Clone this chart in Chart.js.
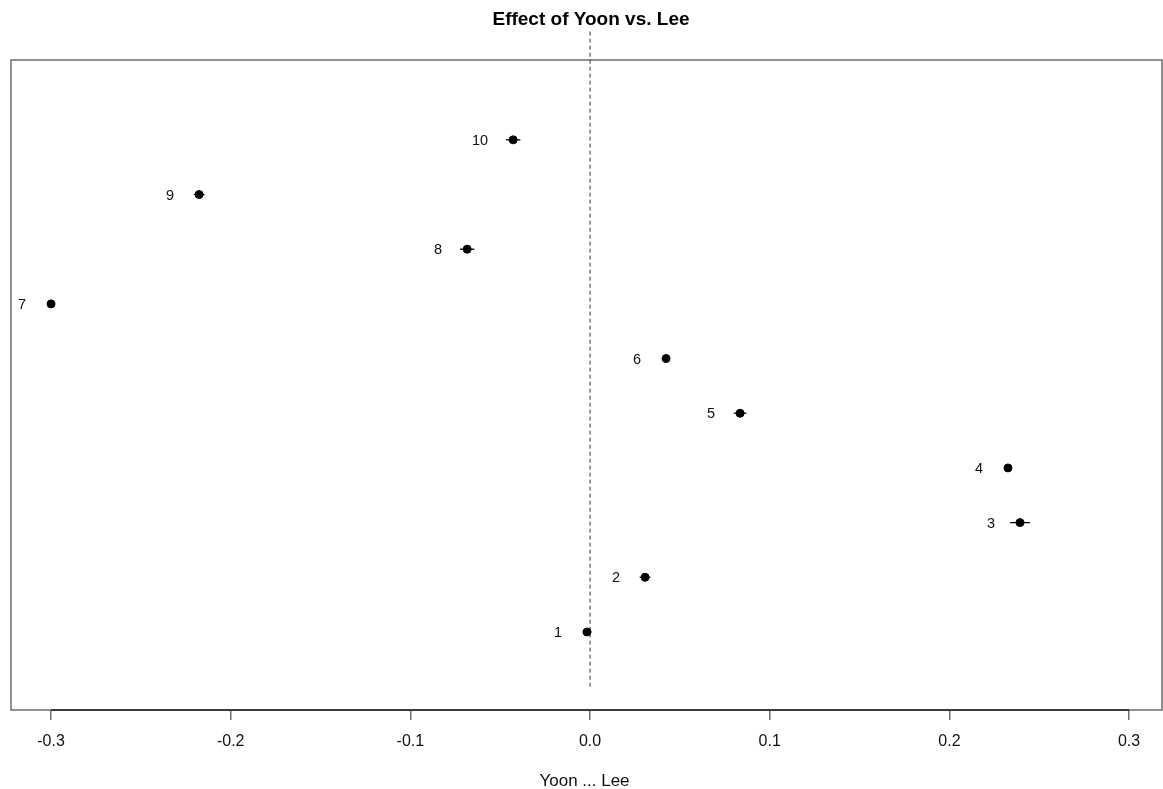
<!DOCTYPE html>
<html>
<head>
<meta charset="utf-8">
<script src="https://cdn.jsdelivr.net/npm/chart.js@4"></script>
<style>
  html, body { margin: 0; padding: 0; background: #fff; overflow: hidden; }
  #wrap { width: 1163px; height: 789px; }
</style>
</head>
<body>
<div id="wrap"><canvas id="grafica"></canvas></div>
<script>
// ================= DATOS =================
const etiquetas = ["1", "2", "3", "4", "5", "6", "7", "8", "9", "10"];
const posiciones = [1, 2, 3, 4, 5, 6, 7, 8, 9, 10];
const efectos = [-0.0017, 0.0306, 0.2393, 0.2326, 0.0835, 0.0423, -0.300, -0.0684, -0.2176, -0.0428];
const margenes = [0.0025, 0.003, 0.0055, 0.002, 0.0035, 0.002, 0.001, 0.004, 0.003, 0.004];
const ticksX = [-0.3, -0.2, -0.1, 0.0, 0.1, 0.2, 0.3];

const FUENTE = "'Liberation Sans', Arial, sans-serif";

// ================= PLUGIN: caja, eje, barras y etiquetas =================
const dibujoR = {
    id: "dibujoR",
    beforeDatasetsDraw(chart) {
        const { ctx, chartArea: a, scales: { x, y } } = chart;
        ctx.save();
        // caja del gráfico (hasta el borde derecho del lienzo)
        ctx.strokeStyle = "#6e6e6e";
        ctx.lineWidth = 1.5;
        ctx.strokeRect(a.left, a.top, chart.width - 1 - a.left, a.bottom - a.top);
        // línea del eje de -0.3 a 0.3
        ctx.strokeStyle = "#222";
        ctx.beginPath();
        ctx.moveTo(x.getPixelForValue(ticksX[0]), a.bottom);
        ctx.lineTo(x.getPixelForValue(ticksX[ticksX.length - 1]), a.bottom);
        ctx.stroke();
        // barras de error
        ctx.strokeStyle = "#000";
        ctx.lineWidth = 1.3;
        efectos.forEach((v, i) => {
            const py = y.getPixelForValue(posiciones[i]);
            ctx.beginPath();
            ctx.moveTo(x.getPixelForValue(v - margenes[i]), py);
            ctx.lineTo(x.getPixelForValue(v + margenes[i]), py);
            ctx.stroke();
        });
        ctx.restore();
    },
    afterDatasetsDraw(chart) {
        const { ctx, scales: { x, y } } = chart;
        ctx.save();
        // etiquetas de cada punto
        ctx.fillStyle = "#111";
        ctx.font = "14.5px " + FUENTE;
        ctx.textAlign = "right";
        ctx.textBaseline = "middle";
        efectos.forEach((v, i) => {
            ctx.fillText(etiquetas[i], x.getPixelForValue(v) - 25, y.getPixelForValue(posiciones[i]) + 1);
        });
        // título
        ctx.font = "bold 19px " + FUENTE;
        ctx.textAlign = "center";
        ctx.fillStyle = "#000";
        ctx.fillText("Effect of Yoon vs. Lee", 591, 20);
        ctx.restore();
    }
};

// ================= GRÁFICA =================
const ctx = document.getElementById("grafica").getContext("2d");
window.miGrafica = new Chart(ctx, {
    type: "scatter",
    data: {
        datasets: [
            {
                label: "Efecto",
                data: efectos.map((v, i) => ({ x: v, y: posiciones[i] })),
                backgroundColor: "#000",
                borderColor: "#000",
                pointRadius: 4,
                pointHoverRadius: 4
            },
            {
                // línea discontinua en cero
                label: "cero",
                type: "line",
                data: [{ x: 0, y: 0 }, { x: 0, y: 12 }],
                borderColor: "#333",
                borderWidth: 1,
                borderDash: [4, 3],
                pointRadius: 0,
                clip: false
            }
        ]
    },
    options: {
        responsive: true,
        maintainAspectRatio: false,
        animation: false,
        layout: { padding: { left: 11, right: 1, top: 60, bottom: 0 } },
        plugins: {
            legend: { display: false },
            tooltip: { enabled: false }
        },
        scales: {
            x: {
                type: "linear",
                min: -0.3223,
                max: 0.3161,
                afterBuildTicks: (axis) => { axis.ticks = ticksX.map(v => ({ value: v })); },
                afterFit: (scale) => { scale.height = 79; },
                grid: { drawOnChartArea: false, drawTicks: true, tickLength: 10, color: "#6e6e6e", lineWidth: 1.5 },
                border: { display: false },
                ticks: {
                    padding: 12,
                    color: "#111",
                    font: { family: FUENTE, size: 16 },
                    maxRotation: 0,
                    callback: (v) => v.toFixed(1)
                },
                title: {
                    display: true,
                    text: "Yoon ... Lee",
                    color: "#111",
                    font: { family: FUENTE, size: 17 },
                    padding: { top: 0, bottom: -3 }
                }
            },
            y: {
                display: false,
                min: -0.427,
                max: 11.46
            }
        }
    },
    plugins: [dibujoR]
});
</script>
</body>
</html>
